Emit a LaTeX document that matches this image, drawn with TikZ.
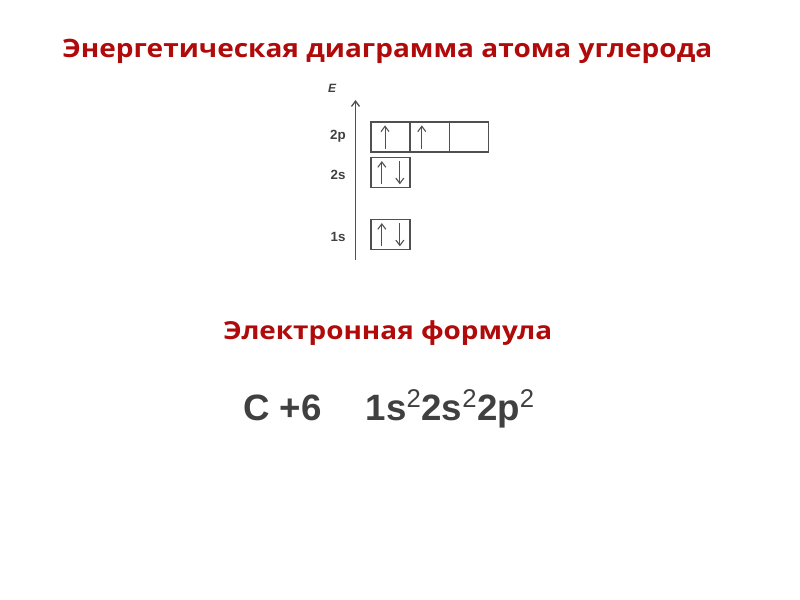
\documentclass[tikz,border=0pt]{standalone}
\usepackage{fontspec}
\setmainfont{Liberation Sans}
\newfontfamily\headfont{Open Sans}
\usetikzlibrary{arrows.meta}
\definecolor{ttlred}{HTML}{B00A0A}
\definecolor{dgray}{HTML}{404040}
\definecolor{lgray}{HTML}{505050}
\tikzset{
  ttl/.style={font=\headfont\bfseries\fontsize{19pt}{22pt}\selectfont, text=ttlred, inner sep=0pt},
  lvl/.style={font=\bfseries\fontsize{10pt}{12pt}\selectfont, text=dgray, inner sep=0pt},
  cell/.style={draw=lgray, line width=0.9pt, minimum width=29.25pt, minimum height=22.5pt, inner sep=0pt},
  spin/.style={draw=lgray, line width=0.8pt, -{Straight Barb[length=4pt,width=6pt]}},
  formula/.style={font=\bfseries\fontsize{27.5pt}{32pt}\selectfont, text=dgray, inner sep=0pt}
}
\begin{document}
\begin{tikzpicture}[x=0.75pt,y=-0.75pt]
\useasboundingbox[fill=white] (0,0) rectangle (800,600);
\node[ttl, anchor=base west] (title) at (62,57) {\resizebox{487.5pt}{\height}{Энергетическая диаграмма атома углерода}};
% axis
\coordinate (axb) at (355.5,260);
\coordinate (axt) at (355.5,100);
\draw[draw=lgray, line width=1pt, -{Straight Barb[length=4pt,width=6pt]}] (axb) -- (axt);
\node[font=\itshape\bfseries\fontsize{9pt}{10pt}\selectfont, text=dgray, inner sep=0pt] (E) at (332,88) {E};
% level labels
\node[lvl] (l2p) at (338,136.5) {2p};
\node[lvl] (l2s) at (338,174.5) {2s};
\node[lvl] (l1s) at (338,236.5) {1s};
% boxes
\node[cell] (p1) at (390.5,137) {};
\node[cell] (p2) at (429.8,137) {};
\node[cell] (p3) at (469,137) {};
\node[cell] (s2) at (390.5,172.7) {};
\node[cell] (s1) at (390.5,234.7) {};
% spins
\draw[spin] ([xshift=-4.1pt,yshift=3pt]p1.south) -- ([xshift=-4.1pt,yshift=-3pt]p1.north);
\draw[spin] ([xshift=-6pt,yshift=3pt]p2.south) -- ([xshift=-6pt,yshift=-3pt]p2.north);
\draw[spin] ([xshift=-6.5pt,yshift=3pt]s2.south) -- ([xshift=-6.5pt,yshift=-3pt]s2.north);
\draw[spin] ([xshift=7pt,yshift=-3pt]s2.north) -- ([xshift=7pt,yshift=3pt]s2.south);
\draw[spin] ([xshift=-6.5pt,yshift=3pt]s1.south) -- ([xshift=-6.5pt,yshift=-3pt]s1.north);
\draw[spin] ([xshift=7pt,yshift=-3pt]s1.north) -- ([xshift=7pt,yshift=3pt]s1.south);
% formula
\node[ttl, anchor=base west, font=\headfont\bfseries\fontsize{18.6pt}{22pt}\selectfont] (eh) at (223,339) {\resizebox{246.75pt}{\height}{Электронная формула}};
\node[formula, anchor=base west] (cf) at (243,420) {C +6\hspace{33pt}1s\textsuperscript{\mdseries 2}2s\textsuperscript{\mdseries 2}2p\textsuperscript{\mdseries 2}};
\end{tikzpicture}
\end{document}
